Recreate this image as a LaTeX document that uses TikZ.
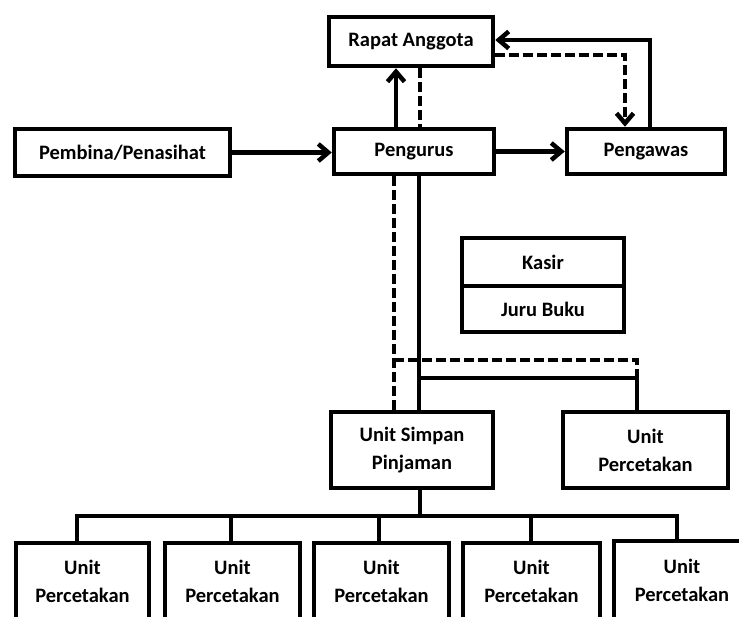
\documentclass[tikz,border=0pt]{standalone}
\usepackage{fontspec}
\setmainfont{Carlito}
\usetikzlibrary{arrows.meta}
\begin{document}
\begin{tikzpicture}[x=1pt,y=-1pt,
  box/.style={draw, line width=4.5pt, inner sep=0pt, align=center,
    font=\fontsize{20.5}{28}\selectfont\bfseries},
  conn/.style={draw, line width=4.5pt},
  dashln/.style={draw, line width=4.5pt, dash pattern=on 10pt off 4pt},
  tip/.style={-{Straight Barb[length=10pt,width=17pt]}}
]
\useasboundingbox (0,0) rectangle (739,617);
\clip (0,0) rectangle (739,617);

% boxes
\node[box, minimum width=164, minimum height=49] (rapat) at (411,41.5) {Rapat Anggota};
\node[box, minimum width=215, minimum height=47] (pembina) at (122.5,152.5) {Pembina/Penasihat};
\node[box, minimum width=160, minimum height=45] (pengurus) at (414,151.5) {Pengurus};
\node[box, minimum width=158, minimum height=45] (pengawas) at (646,151.5) {Pengawas};
\node[box, minimum width=162, minimum height=48] (kasir) at (543,262) {Kasir};
\node[box, minimum width=162, minimum height=46] (juru) at (543,309) {Juru Buku};
\node[box, minimum width=162, minimum height=76] (simpan) at (412,450) {Unit Simpan\\Pinjaman};
\node[box, minimum width=165, minimum height=76] (percR) at (645.5,450) {Unit\\Percetakan};
\node[box, minimum width=133, minimum height=76] (b1) at (82.5,581) {Unit\\Percetakan};
\node[box, minimum width=135, minimum height=76] (b2) at (232.5,581) {Unit\\Percetakan};
\node[box, minimum width=135, minimum height=76] (b3) at (381.5,581) {Unit\\Percetakan};
\node[box, minimum width=137, minimum height=76] (b4) at (531.5,581) {Unit\\Percetakan};
\node[box, minimum width=136, minimum height=78] (b5) at (682,580) {Unit\\Percetakan};

% helper coordinates
\coordinate (cA) at (396,0);
\coordinate (cB) at (420,0);
\coordinate (cC) at (394,0);
\coordinate (cD) at (419,0);
\coordinate (cE) at (637,0);
\coordinate (cF) at (625,55);
\coordinate (cG) at (650,40);
\coordinate (hD) at (0,360);
\coordinate (hS) at (0,378);
\coordinate (bus) at (0,516);
\coordinate (d1) at (77,0);
\coordinate (d2) at (231,0);
\coordinate (d3) at (379,0);
\coordinate (d4) at (531,0);
\coordinate (d5) at (677,0);

% top connectors
\draw[conn, tip] (pembina.east) -- (pembina.east -| pengurus.west);
\draw[conn, tip] (pengurus.east) -- (pengawas.west);
\draw[conn, tip] (pengurus.north -| cA) -- (rapat.south -| cA);
\draw[dashln] (rapat.south -| cB) -- (pengurus.north -| cB);
\draw[dashln, tip] (rapat.east |- cF) -- (cF) -- (pengawas.north -| cF);
\draw[conn, tip] (pengawas.north -| cG) -- (cG) -- (rapat.east |- cG);

% Pengurus down to units
\draw[dashln] (pengurus.south -| cC) -- (simpan.north -| cC);
\draw[conn] (pengurus.south -| cD) -- (simpan.north -| cD);
\draw[dashln] (cC |- hD) -- (cE |- hD) -- (percR.north -| cE);
\draw[conn] (cD |- hS) -- (cE |- hS) -- (percR.north -| cE);

% Unit Simpan Pinjaman to bottom units
\draw[conn] (simpan.south -| cB) -- (cB |- bus);
\draw[conn] (b1.north -| d1) -- (d1 |- bus) -- (d5 |- bus) -- (b5.north -| d5);
\draw[conn] (d2 |- bus) -- (b2.north -| d2);
\draw[conn] (d3 |- bus) -- (b3.north -| d3);
\draw[conn] (d4 |- bus) -- (b4.north -| d4);
\end{tikzpicture}
\end{document}
